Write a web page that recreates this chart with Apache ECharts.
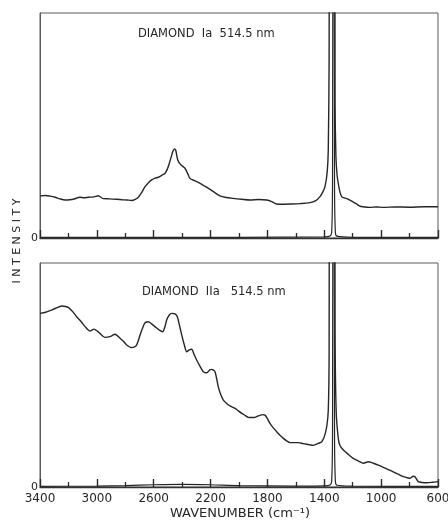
<!DOCTYPE html>
<html>
<head>
<meta charset="utf-8">
<script src="https://cdn.jsdelivr.net/npm/echarts@6/dist/echarts.min.js"></script>
<style>
  html, body { margin: 0; padding: 0; background: #fff; }
  #chart { width: 448px; height: 520px; }
</style>
</head>
<body>
<div id="chart"></div>
<script>
// Raman spectra of type Ia and type IIa diamond, 514.5 nm excitation.
// Wavenumbers in cm^-1 (axis runs high to low), intensity in arbitrary units (0-100 full scale).
// The first-order line near 1332 cm^-1 runs off scale in both panels.

const wavenumberTicks = [3400, 3000, 2600, 2200, 1800, 1400, 1000, 600];

// Type Ia: high-gain trace
const iaWavenumber = [3400, 3360, 3330, 3294, 3260, 3224, 3190, 3166, 3119, 3090, 3060, 3020, 2990, 2955,
  2910, 2860, 2820, 2790, 2755, 2730, 2708, 2685, 2661, 2637, 2614, 2590, 2568, 2545, 2521, 2505, 2490,
  2475, 2466, 2455, 2445, 2431, 2410, 2380, 2360, 2345, 2310, 2274, 2240, 2204, 2170, 2134, 2090, 2042,
  1980, 1923, 1860, 1805, 1770, 1735, 1690, 1641, 1570, 1501, 1460, 1430, 1410, 1395, 1380, 1372, 1366,
  1360, 1335, 1328, 1324, 1318, 1310, 1301, 1290, 1278, 1260, 1245, 1220, 1198, 1170, 1150, 1128, 1080,
  1030, 987, 900, 800, 700, 600];
const iaIntensity = [18.7, 18.9, 18.6, 18.1, 17.4, 16.9, 17.0, 17.2, 18.1, 17.9, 18.1, 18.3, 18.8, 17.5,
  17.4, 17.2, 17.0, 16.9, 16.7, 17.2, 18.1, 20.2, 22.8, 24.6, 25.8, 26.6, 27.0, 27.8, 28.7, 30.5, 33.2,
  36.5, 38.4, 39.6, 39.0, 34.7, 32.6, 31.0, 28.5, 26.5, 25.4, 24.3, 23.0, 21.6, 20.2, 18.7, 18.0, 17.6,
  17.2, 16.9, 17.1, 16.9, 16.2, 15.1, 15.0, 15.1, 15.3, 15.7, 16.6, 18.4, 20.5, 22.8, 29.0, 39.0, 80,
  400, 1000, 300, 60, 36, 28, 24, 20.5, 18.4, 17.8, 17.6, 16.8, 16.1, 15.0, 14.2, 13.9, 13.6,
  13.8, 13.6, 13.8, 13.7, 13.9, 13.9];

// Type Ia: low-gain trace (first-order line only)
const iaLowWavenumber = [3400, 2600, 2000, 1400, 1360, 1348, 1342, 1338, 1335, 1332, 1328, 1322, 1310, 1200, 600];
const iaLowIntensity = [0.3, 0.3, 0.3, 0.5, 0.9, 2.5, 25, 250, 600, 250, 25, 2.5, 0.8, 0.3, 0.3];

// Type IIa: high-gain trace
const iiaWavenumber = [3400, 3360, 3330, 3290, 3247, 3220, 3201, 3170, 3142, 3110, 3083, 3048, 3020, 2995,
  2978, 2943, 2908, 2872, 2837, 2810, 2790, 2755, 2725, 2710, 2696, 2678, 2661, 2638, 2615, 2591, 2560,
  2537, 2520, 2509, 2490, 2473, 2450, 2434, 2420, 2403, 2385, 2368, 2350, 2333, 2315, 2298, 2275, 2251,
  2227, 2205, 2192, 2169, 2146, 2130, 2110, 2085, 2063, 2028, 2005, 1981, 1955, 1935, 1910, 1887, 1870,
  1852, 1835, 1817, 1800, 1782, 1760, 1735, 1710, 1688, 1665, 1641, 1610, 1583, 1550, 1524, 1500, 1477,
  1442, 1418, 1400, 1383, 1372, 1366, 1360, 1335, 1328, 1324, 1316, 1301, 1290, 1266, 1230, 1196, 1160,
  1125, 1090, 1070, 1055, 1020, 985, 950, 915, 880, 844, 810, 797, 775, 762, 739, 710, 679, 640, 600];
const iiaIntensity = [77.5, 78.0, 78.7, 79.8, 80.8, 80.6, 80.2, 78.3, 76.0, 73.8, 71.6, 69.6, 70.5, 69.5,
  68.6, 66.8, 67.1, 68.2, 66.4, 64.8, 63.4, 62.2, 62.9, 65.0, 67.9, 71.0, 73.3, 73.8, 72.8, 71.6, 70.0,
  69.3, 71.8, 74.6, 76.8, 77.5, 77.3, 76.0, 72.5, 67.9, 63.5, 60.4, 61.2, 61.5, 59.0, 56.7, 54.0, 51.5,
  51.0, 52.3, 52.5, 51.5, 44.8, 41.5, 38.8, 37.2, 36.2, 35.1, 34.0, 32.9, 31.9, 31.1, 31.0, 31.1, 31.6,
  32.0, 32.3, 32.1, 30.5, 28.4, 26.5, 24.7, 23.0, 21.7, 20.6, 19.8, 19.8, 19.8, 19.4, 19.1, 18.8, 18.6,
  19.5, 20.2, 22.5, 26.9, 34.0, 60, 400, 1000, 300, 70, 33, 21.5, 18.5, 16.5, 14.5, 12.8, 11.6,
  10.6, 11.3, 11.0, 10.6, 9.8, 8.8, 7.8, 6.8, 5.7, 4.6, 4.0, 3.9, 4.8, 4.6, 2.4, 2.0, 1.9, 2.1, 2.4];

// Type IIa: low-gain trace
const iiaLowWavenumber = [3400, 3000, 2800, 2600, 2400, 2200, 2000, 1600, 1400, 1360, 1348, 1342, 1338,
  1335, 1332, 1328, 1322, 1310, 1200, 600];
const iiaLowIntensity = [0.3, 0.4, 0.6, 1.0, 1.2, 1.0, 0.6, 0.4, 0.5, 0.9, 2.5, 25, 250, 600, 250, 25,
  2.5, 0.8, 0.4, 0.3];

const panelTitles = ['DIAMOND  Ia  514.5 nm', 'DIAMOND  IIa   514.5 nm'];
const xAxisTitle = 'WAVENUMBER (cm\u207B\u00B9)';
const yAxisTitle = 'I N T E N S I T Y';

const ink = '#262626';
const frameColor = '#5a5a5a';
const tickColor = '#2a2a2a';
const fontFamily = '"DejaVu Sans", "Liberation Sans", sans-serif';

function pairs(xs, ys) {
  return xs.map((x, i) => [x, ys[i]]);
}

function makeXAxis(gridIndex, showLabels) {
  return {
    type: 'value',
    gridIndex: gridIndex,
    position: 'bottom',
    min: wavenumberTicks[wavenumberTicks.length - 1],
    max: wavenumberTicks[0],
    interval: wavenumberTicks[0] - wavenumberTicks[1],
    inverse: true,
    axisLine: { show: true, onZero: false, lineStyle: { color: '#333', width: 1.4 } },
    axisTick: { show: true, inside: true, length: 8, lineStyle: { color: tickColor, width: 1.4 } },
    minorTick: { show: true, splitNumber: 2, length: 5, lineStyle: { color: tickColor, width: 1.3 } },
    splitLine: { show: false },
    minorSplitLine: { show: false },
    axisLabel: {
      show: showLabels,
      color: ink,
      fontSize: 12,
      fontFamily: fontFamily,
      margin: 6,
      formatter: v => wavenumberTicks.includes(v) ? String(v) : ''
    },
    z: 5
  };
}

function makeYAxis(gridIndex) {
  return {
    type: 'value',
    gridIndex: gridIndex,
    min: 0,
    max: 100,
    interval: 100,
    axisLine: { show: true, onZero: false, lineStyle: { color: frameColor, width: 1 } },
    axisTick: { show: false },
    splitLine: { show: false },
    axisLabel: {
      show: true,
      color: ink,
      fontSize: 11,
      fontFamily: fontFamily,
      margin: 2,
      formatter: v => v === 0 ? '0' : ''
    }
  };
}

function traceSeries(name, axisIndex, xs, ys, width) {
  return {
    name: name,
    type: 'line',
    xAxisIndex: axisIndex,
    yAxisIndex: axisIndex,
    data: pairs(xs, ys),
    showSymbol: false,
    smooth: 0.25,
    clip: true,
    lineStyle: { color: ink, width: width },
    animation: false
  };
}

const chart = echarts.init(document.getElementById('chart'), null, { renderer: 'canvas' });

chart.setOption({
  backgroundColor: '#ffffff',
  animation: false,
  grid: [
    { left: 40, right: 10, top: 13, height: 225, show: true, borderColor: frameColor, borderWidth: 1,
      outerBoundsMode: 'none', containLabel: false },
    { left: 40, right: 10, top: 263, height: 224, show: true, borderColor: frameColor, borderWidth: 1,
      outerBoundsMode: 'none', containLabel: false }
  ],
  xAxis: [makeXAxis(0, false), makeXAxis(1, true)],
  yAxis: [makeYAxis(0), makeYAxis(1)],
  series: [
    traceSeries('Ia high gain', 0, iaWavenumber, iaIntensity, 1.4),
    traceSeries('Ia low gain', 0, iaLowWavenumber, iaLowIntensity, 1.2),
    traceSeries('IIa high gain', 1, iiaWavenumber, iiaIntensity, 1.4),
    traceSeries('IIa low gain', 1, iiaLowWavenumber, iiaLowIntensity, 1.2)
  ],
  graphic: [
    {
      type: 'text', left: 138, top: 28,
      style: { text: panelTitles[0], fill: ink, font: '11.5px ' + fontFamily }
    },
    {
      type: 'text', left: 142, top: 286,
      style: { text: panelTitles[1], fill: ink, font: '11.5px ' + fontFamily }
    },
    {
      type: 'text', x: 240, y: 514,
      style: { text: xAxisTitle, fill: ink, font: '13px ' + fontFamily, align: 'center', verticalAlign: 'middle' }
    },
    {
      type: 'text', x: 17, y: 241, rotation: Math.PI / 2,
      style: { text: yAxisTitle, fill: ink, font: '11px ' + fontFamily, align: 'center', verticalAlign: 'middle' }
    }
  ]
});
</script>
</body>
</html>
